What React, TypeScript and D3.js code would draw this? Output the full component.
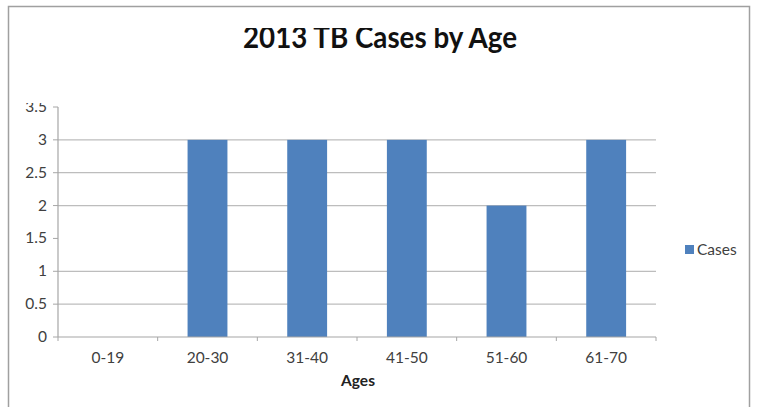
import React from "react";
import * as d3 from "d3";

const categories = ["0-19", "20-30", "31-40", "41-50", "51-60", "61-70"];
const cases = [0, 3, 3, 3, 2, 3];
const yTicks = [0, 0.5, 1, 1.5, 2, 2.5, 3, 3.5];
const seriesName = "Cases";
const title = "2013 TB Cases by Age";
const xTitle = "Ages";

const W = 758;
const H = 407;
const left = 58;
const right = 656;
const top = 107;
const bottom = 337;
const FONT = "Lato, 'Open Sans', sans-serif";
const BAR = "#4F81BD";

export default function App() {
  const x = d3.scaleBand<string>().domain(categories).range([left, right]).paddingInner(0.6).paddingOuter(0.3);
  const band = d3.scaleBand<string>().domain(categories).range([left, right]);
  const y = d3.scaleLinear().domain([0, 3.5]).range([bottom, top]);

  return (
    <svg width={W} height={H} style={{ position: "absolute", left: 0, top: 0, background: "#fff" }}>
      <defs>
        <clipPath id="clipTop">
          <rect x={0} y={103} width={W} height={H} />
        </clipPath>
        <clipPath id="clipTitle">
          <rect x={0} y={28} width={W} height={60} />
        </clipPath>
      </defs>
      <rect x={0} y={0} width={W} height={H} fill="#fff" />
      <rect x={8.5} y={6.5} width={741} height={H} fill="none" stroke="#a0a0a0" strokeWidth={1.5} />

      <text
        x={380}
        y={48}
        textAnchor="middle"
        fontFamily={FONT}
        fontWeight={700}
        fontSize={30}
        fill="#111"
        clipPath="url(#clipTitle)"
        textLength={274}
        lengthAdjust="spacingAndGlyphs"
      >
        {title}
      </text>

      {yTicks.filter((t) => t > 0 && t < 3.5 && t !== 1.5).map((t) => (
        <line key={"g" + t} x1={left} x2={right} y1={y(t)} y2={y(t)} stroke="#bdbdbd" strokeWidth={1.2} />
      ))}

      {categories.map((c, i) => (
        <rect
          key={c}
          x={x(c)!}
          y={y(cases[i])}
          width={x.bandwidth()}
          height={bottom - y(cases[i])}
          fill={BAR}
        />
      ))}

      <line x1={left} x2={left} y1={top} y2={bottom} stroke="#a6a6a6" strokeWidth={1.2} />
      <line x1={left} x2={right} y1={bottom} y2={bottom} stroke="#a6a6a6" strokeWidth={1.2} />
      {yTicks.map((t) => (
        <line key={"yt" + t} x1={left - 5} x2={left} y1={y(t)} y2={y(t)} stroke="#a6a6a6" strokeWidth={1} />
      ))}
      {categories.map((c) => (
        <line key={"xt" + c} x1={band(c)!} x2={band(c)!} y1={bottom} y2={bottom + 4} stroke="#a6a6a6" strokeWidth={1} />
      ))}
      <line x1={right} x2={right} y1={bottom} y2={bottom + 4} stroke="#a6a6a6" strokeWidth={1} />

      <g clipPath="url(#clipTop)">
        {yTicks.map((t) => (
          <text
            key={"yl" + t}
            x={left - 11}
            y={y(t) + 5}
            textAnchor="end"
            fontFamily={FONT}
            fontSize={15.5}
            fill="#404040"
          >
            {String(t)}
          </text>
        ))}
      </g>

      {categories.map((c) => (
        <text
          key={"xl" + c}
          x={band(c)! + band.bandwidth() / 2}
          y={363}
          textAnchor="middle"
          fontFamily={FONT}
          fontSize={15.5}
          fill="#404040"
        >
          {c}
        </text>
      ))}

      <text x={358} y={386} textAnchor="middle" fontFamily={FONT} fontWeight={700} fontSize={15.5} fill="#222">
        {xTitle}
      </text>

      <rect x={685} y={245} width={9} height={9} fill={BAR} />
      <text x={697} y={255} fontFamily={FONT} fontSize={15.5} fill="#404040">
        {seriesName}
      </text>
    </svg>
  );
}
